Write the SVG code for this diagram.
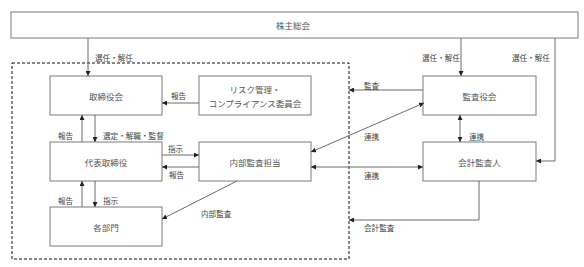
<svg xmlns="http://www.w3.org/2000/svg" width="584" height="267" viewBox="0 0 584 267">
<style>
.box{fill:#fff;stroke:#7a7a7a;stroke-width:1}
.t{font-family:"Noto Sans CJK JP",sans-serif;font-size:8.5px;fill:#555;text-anchor:middle;dominant-baseline:central}
.l{font-family:"Noto Sans CJK JP",sans-serif;font-size:7.6px;fill:#444;dominant-baseline:central}
.c{fill:none;stroke:#6a6a6a;stroke-width:1}
</style>
<defs>
<marker id="a" viewBox="0 0 6 6" refX="6" refY="3" markerWidth="5" markerHeight="5" orient="auto-start-reverse" markerUnits="userSpaceOnUse"><path d="M0,0L6,3L0,6z" fill="#222"/></marker>
</defs>
<rect x="12" y="63" width="337" height="196" fill="none" stroke="#111" stroke-width="1" stroke-dasharray="3,2"/>
<g id="n-shareholders"><rect class="box" x="11" y="12" width="567" height="26"/><text class="t" x="293" y="24.5">株主総会</text></g>
<g id="n-board"><rect class="box" x="50" y="76" width="112" height="39"/><text class="t" x="106" y="95.5">取締役会</text></g>
<g id="n-risk"><rect class="box" x="199" y="76" width="112" height="39"/><text class="t" x="255" y="89">リスク管理・</text><text class="t" x="255" y="103">コンプライアンス委員会</text></g>
<g id="n-auditors"><rect class="box" x="423" y="76" width="113" height="39"/><text class="t" x="479.5" y="95.5">監査役会</text></g>
<g id="n-ceo"><rect class="box" x="50" y="142" width="112" height="39"/><text class="t" x="106" y="161.5">代表取締役</text></g>
<g id="n-internal"><rect class="box" x="199" y="142" width="112" height="39"/><text class="t" x="255" y="161.5">内部監査担当</text></g>
<g id="n-accountant"><rect class="box" x="423" y="142" width="113" height="39"/><text class="t" x="479.5" y="161.5">会計監査人</text></g>
<g id="n-depts"><rect class="box" x="50" y="207" width="112" height="39"/><text class="t" x="106" y="226.5">各部門</text></g>
<g id="connectors">
<path class="c" d="M88,38V76" marker-end="url(#a)"/>
<path class="c" d="M461,38V76" marker-end="url(#a)"/>
<path class="c" d="M555,38V161H536" marker-end="url(#a)"/>
<path class="c" d="M199,103H162" marker-end="url(#a)"/>
<path class="c" d="M423,90H349" marker-end="url(#a)"/>
<path class="c" d="M424,103L311,152" marker-start="url(#a)" marker-end="url(#a)"/>
<path class="c" d="M460,115V142" marker-start="url(#a)" marker-end="url(#a)"/>
<path class="c" d="M82,142V115" marker-end="url(#a)"/>
<path class="c" d="M95,115V142" marker-end="url(#a)"/>
<path class="c" d="M162,155H199" marker-end="url(#a)"/>
<path class="c" d="M199,167H162" marker-end="url(#a)"/>
<path class="c" d="M311,167H423" marker-start="url(#a)" marker-end="url(#a)"/>
<path class="c" d="M479,181V220H349" marker-end="url(#a)"/>
<path class="c" d="M82,207V181" marker-end="url(#a)"/>
<path class="c" d="M95,181V207" marker-end="url(#a)"/>
<path class="c" d="M237,181L162,219" marker-end="url(#a)"/>
</g>
<g id="labels">
<text class="l" x="95" y="57">選任・解任</text>
<text class="l" x="422" y="57">選任・解任</text>
<text class="l" x="512" y="57">選任・解任</text>
<text class="l" x="171" y="95">報告</text>
<text class="l" x="364" y="85">監査</text>
<text class="l" x="58" y="135">報告</text>
<text class="l" x="103" y="135">選定・解職・監督</text>
<text class="l" x="168" y="148">指示</text>
<text class="l" x="364" y="136">連携</text>
<text class="l" x="469" y="136">連携</text>
<text class="l" x="169" y="174">報告</text>
<text class="l" x="364" y="175">連携</text>
<text class="l" x="58" y="200">報告</text>
<text class="l" x="103" y="200">指示</text>
<text class="l" x="201" y="213">内部監査</text>
<text class="l" x="364" y="227">会計監査</text>
</g>
</svg>
